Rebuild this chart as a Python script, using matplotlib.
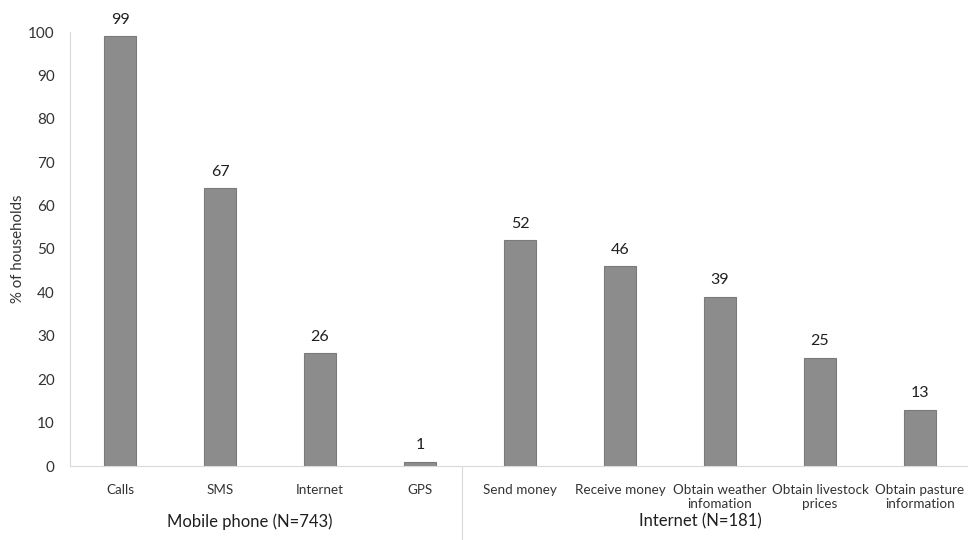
import matplotlib
matplotlib.use("Agg")
import matplotlib.pyplot as plt
import matplotlib.transforms as mtransforms

plt.rcParams['font.family'] = ['Lato', 'DejaVu Sans']

# Data
categories = ['Calls', 'SMS', 'Internet', 'GPS', 'Send money', 'Receive money',
              'Obtain weather\ninfomation', 'Obtain livestock\nprices',
              'Obtain pasture\ninformation']
heights = [99, 64, 26, 1, 52, 46, 39, 25, 13]      # bar heights as drawn
labels = ['99', '67', '26', '1', '52', '46', '39', '25', '13']  # printed labels
groups = ['Mobile phone (N=743)', 'Internet (N=181)']
group_sizes = [4, 5]

fig = plt.figure(figsize=(9.68, 5.40), dpi=100)
ax = fig.add_axes([70 / 968, 74 / 540, 900 / 968, 434 / 540])

x = list(range(len(categories)))
bars = ax.bar(x, heights, width=0.32, color='#8c8c8c', edgecolor='#7a7a7a', linewidth=0.8)

for b, lab in zip(bars, labels):
    ax.text(b.get_x() + b.get_width() / 2, b.get_height() + 2.2, lab,
            ha='center', va='bottom', fontsize=11.5, color='#1f1f1f')

ax.set_xlim(-0.5, len(categories) - 0.5)
ax.set_ylim(0, 100)
ax.set_yticks(range(0, 101, 10))
ax.set_xticks(x)
ax.set_xticklabels(categories, fontsize=9.7, color='#333333', linespacing=1.15)
ax.tick_params(axis='x', length=0, pad=13)
ax.tick_params(axis='y', length=0, pad=11, labelsize=11, labelcolor='#333333')
ax.set_ylabel('% of households', fontsize=10.8, color='#333333', labelpad=2)

for side in ['top', 'right']:
    ax.spines[side].set_visible(False)
ax.spines['left'].set_color('#d9d9d9')
ax.spines['bottom'].set_color('#d9d9d9')

# group labels and separator below the axis
trans = mtransforms.blended_transform_factory(ax.transData, ax.transAxes)
start = 0
for g, n in zip(groups, group_sizes):
    centre = start + (n - 1) / 2 - 0.2
    ax.text(centre, -0.128, g, transform=trans, ha='center', va='center',
            fontsize=12, color='#1f1f1f')
    start += n
ax.plot([group_sizes[0] - 0.58] * 2, [0, -0.2], transform=trans,
        color='#d9d9d9', linewidth=0.8, clip_on=False)

fig.savefig('out.png', dpi=100)
